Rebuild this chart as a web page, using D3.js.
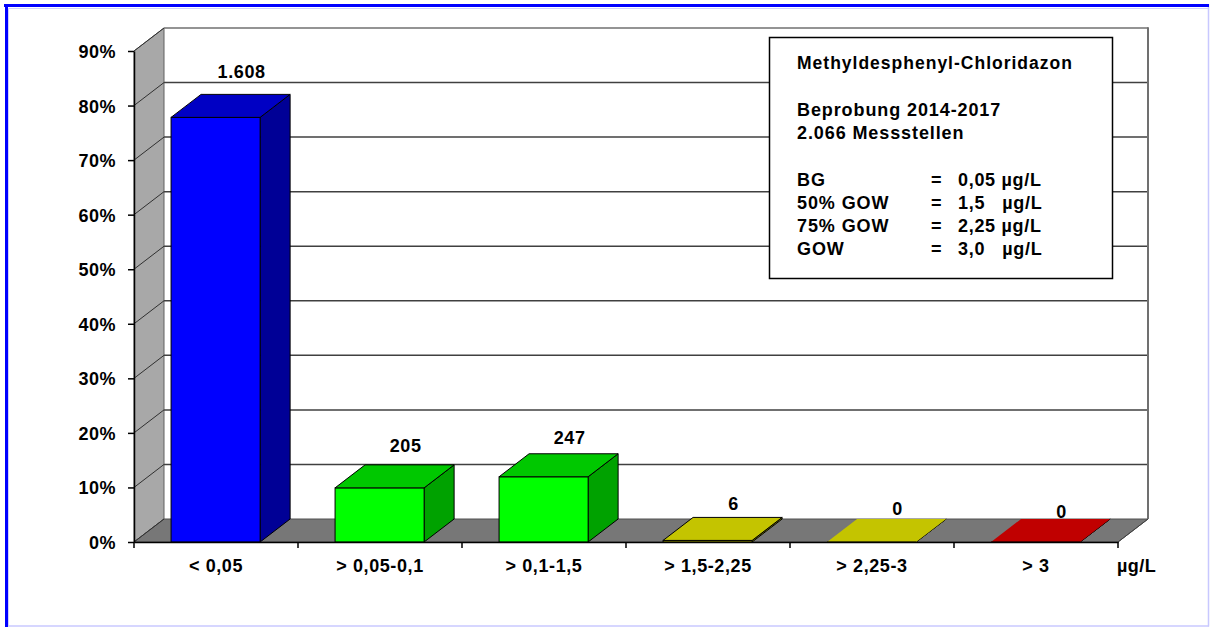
<!DOCTYPE html>
<html>
<head>
<meta charset="utf-8">
<title>Methyldesphenyl-Chloridazon</title>
<script src="https://d3js.org/d3.v7.min.js"></script>
<style>
  body { margin: 0; background: #fff; }
  text { font-family: "Liberation Sans", Arial, sans-serif; font-weight: bold; fill: #000; }
</style>
</head>
<body>
<div id="chart"></div>
<script>
// data
const categories = ["< 0,05", "> 0,05-0,1", "> 0,1-1,5", "> 1,5-2,25", "> 2,25-3", "> 3"];
const counts = [1608, 205, 247, 6, 0, 0];
const total = 2066;
const yTicks = [0, 0.1, 0.2, 0.3, 0.4, 0.5, 0.6, 0.7, 0.8, 0.9];
const unitLabel = "µg/L";
const legendTitle = "Methyldesphenyl-Chloridazon";
const legendInfo = ["Beprobung 2014-2017", "2.066 Messstellen"];
const legendLimits = [["BG", "0,05 µg/L"], ["50% GOW", "1,5   µg/L"], ["75% GOW", "2,25 µg/L"], ["GOW", "3,0   µg/L"]];

// colours per bar: front, top, side
const barColors = [
  ["#0000ff", "#0000c4", "#000096"],
  ["#00ff00", "#00c800", "#00a200"],
  ["#00ff00", "#00c800", "#00a200"],
  ["#c8c800", "#c4c400", "#8a8a00"],
  ["#c8c800", "#c4c400", "#8a8a00"],
  ["#c80000", "#c00000", "#900000"]
];

const W = 1210, H = 628;
const dx = 30, dy = -23;   // depth of the 3D box

const svg = d3.select("#chart").append("svg")
  .attr("width", W).attr("height", H);

// outer frame
svg.append("rect").attr("x", 0).attr("y", 0).attr("width", W).attr("height", H).attr("fill", "#fff");
svg.append("line").attr("x1", 8.5).attr("y1", 8.5).attr("x2", 1208).attr("y2", 8.5).attr("stroke", "#d0d0ff");
svg.append("line").attr("x1", 8.5).attr("y1", 8.5).attr("x2", 8.5).attr("y2", 626).attr("stroke", "#d0d0ff");
svg.append("line").attr("x1", 1208.5).attr("y1", 4).attr("x2", 1208.5).attr("y2", 626.5).attr("stroke", "#c8c8ff").attr("stroke-width", 1.5);
svg.append("line").attr("x1", 5).attr("y1", 626).attr("x2", 1209).attr("y2", 626).attr("stroke", "#c8c8ff").attr("stroke-width", 1.5);
svg.append("line").attr("x1", 4).attr("y1", 5.5).attr("x2", 1209).attr("y2", 5.5).attr("stroke", "#0000ff").attr("stroke-width", 3);
svg.append("line").attr("x1", 6.5).attr("y1", 4).attr("x2", 6.5).attr("y2", 627).attr("stroke", "#0000ff").attr("stroke-width", 3);

// scales
const x = d3.scaleBand().domain(categories).range([134, 1118]).padding(0);
const y = d3.scaleLinear().domain([0, 0.9]).range([542, 51]);
const barOff = x.bandwidth() * 0.226, barW = x.bandwidth() * 0.543;

const x0 = x.range()[0], x1 = x.range()[1];
const yTop = y(0.9), yBase = y(0);

// left wall
svg.append("polygon")
  .attr("points", [[x0, yBase], [x0, yTop], [x0 + dx, yTop + dy], [x0 + dx, yBase + dy]].join(" "))
  .attr("fill", "#a8a8a8").attr("stroke", "#606060");

// floor
svg.append("polygon")
  .attr("points", [[x0, yBase], [x0 + dx, yBase + dy], [x1 + dx, yBase + dy], [x1, yBase]].join(" "))
  .attr("fill", "#777777").attr("stroke", "#505050");

// gridlines on back wall and left wall
const grid = svg.append("g");
yTicks.forEach(t => {
  if (t > 0) {
    grid.append("line")
      .attr("x1", x0 + dx).attr("x2", x1 + dx)
      .attr("y1", y(t) + dy).attr("y2", y(t) + dy)
      .attr("stroke", t === 0.9 ? "#707070" : "#404040").attr("stroke-width", 1.5);
  }
  grid.append("line")
    .attr("x1", x0).attr("y1", y(t))
    .attr("x2", x0 + dx).attr("y2", y(t) + dy)
    .attr("stroke", "#303030").attr("stroke-width", 1);
});
// right edge of back wall
svg.append("line").attr("x1", x1 + dx).attr("x2", x1 + dx)
  .attr("y1", yTop + dy - 0.75).attr("y2", yBase + dy)
  .attr("stroke", "#707070").attr("stroke-width", 2);
svg.append("line").attr("x1", x1).attr("y1", yBase).attr("x2", x1 + dx).attr("y2", yBase + dy)
  .attr("stroke", "#404040");

// bars
const bars = svg.append("g");
counts.forEach((c, i) => {
  const v = c / total;
  const bx = x(categories[i]) + barOff;
  const bt = y(v);
  const col = barColors[i];
  // side
  bars.append("polygon")
    .attr("points", [[bx + barW, bt], [bx + barW + dx, bt + dy], [bx + barW + dx, yBase + dy], [bx + barW, yBase]].join(" "))
    .attr("fill", col[2]).attr("stroke", "#000").attr("stroke-width", 1);
  // front
  bars.append("rect")
    .attr("x", bx).attr("y", bt).attr("width", barW).attr("height", yBase - bt)
    .attr("fill", col[0]).attr("stroke", "#000").attr("stroke-width", 1);
  // top
  bars.append("polygon")
    .attr("points", [[bx, bt], [bx + dx, bt + dy], [bx + barW + dx, bt + dy], [bx + barW, bt]].join(" "))
    .attr("fill", col[1]).attr("stroke", c === 0 ? "none" : "#000").attr("stroke-width", 1);
  if (c === 0) {
    bars.append("line").attr("x1", bx).attr("x2", bx + barW).attr("y1", bt).attr("y2", bt)
      .attr("stroke", "#000").attr("stroke-width", 1);
  }
});

// value labels
const de = d3.formatLocale({ decimal: ",", thousands: ".", grouping: [3], currency: ["", " €"] });
const fmt = de.format(",d");
svg.append("g").selectAll("text")
  .data(counts)
  .join("text")
  .attr("x", (d, i) => x(categories[i]) + barOff + barW / 2 + dx / 2 + 11)
  .attr("y", (d, i) => y(d / total) + dy - (16 - 3 * i))
  .attr("text-anchor", "middle")
  .style("font-size", "18px").style("letter-spacing", "0.6px")
  .text(d => fmt(d));

// y axis
const yAxis = svg.append("g")
  .attr("transform", `translate(${x0},0)`)
  .call(d3.axisLeft(y).tickValues(yTicks).tickFormat(d3.format(".0%")).tickSize(6).tickPadding(12).tickSizeOuter(0));
yAxis.select(".domain").attr("stroke", "#000").attr("stroke-width", 1.5);
yAxis.selectAll(".tick line").attr("stroke", "#000").attr("stroke-width", 1.5);
yAxis.selectAll(".tick text")
  .attr("font-family", null).attr("dy", "0.36em")
  .style("font-size", "18px").style("letter-spacing", "0.5px");

// x axis
const xAxis = svg.append("g")
  .attr("transform", `translate(0,${yBase})`)
  .call(d3.axisBottom(x).tickSize(0).tickPadding(0).tickSizeOuter(0));
xAxis.select(".domain").attr("stroke", "#000").attr("stroke-width", 1.5);
xAxis.selectAll(".tick text")
  .attr("font-family", null).attr("y", 30).attr("dy", 0)
  .style("font-size", "18px").style("letter-spacing", "0.6px");
// category separators
svg.append("g").selectAll("line")
  .data(categories.concat([null]))
  .join("line")
  .attr("x1", (d, i) => x0 + i * x.step()).attr("x2", (d, i) => x0 + i * x.step())
  .attr("y1", yBase).attr("y2", yBase + 6)
  .attr("stroke", "#000").attr("stroke-width", 1.5);

svg.append("text").attr("x", x1 - 1).attr("y", yBase + 30)
  .style("font-size", "18px").style("letter-spacing", "0.5px")
  .text(unitLabel);

// legend box
const lg = svg.append("g");
lg.append("rect").attr("x", 769.5).attr("y", 37.5).attr("width", 343).attr("height", 241)
  .attr("fill", "#fff").attr("stroke", "#000").attr("stroke-width", 1.5);
const lx = 797, ly = 69, lh = 23.3;
lg.append("text").attr("x", lx).attr("y", ly)
  .style("font-size", "17.5px").style("letter-spacing", "1px").text(legendTitle);
legendInfo.forEach((t, k) => {
  lg.append("text").attr("x", lx).attr("y", ly + lh * (2 + k))
    .style("font-size", "18px").style("letter-spacing", "0.9px").text(t);
});
legendLimits.forEach((r, k) => {
  const yy = ly + lh * (5 + k);
  lg.append("text").attr("x", lx).attr("y", yy)
    .style("font-size", "18px").style("letter-spacing", "0.9px").text(r[0]);
  lg.append("text").attr("x", 931).attr("y", yy)
    .style("font-size", "18px").text("=");
  lg.append("text").attr("x", 958).attr("y", yy)
    .style("font-size", "18px").style("letter-spacing", "0.7px").style("white-space", "pre")
    .text(r[1]);
});
</script>
</body>
</html>
